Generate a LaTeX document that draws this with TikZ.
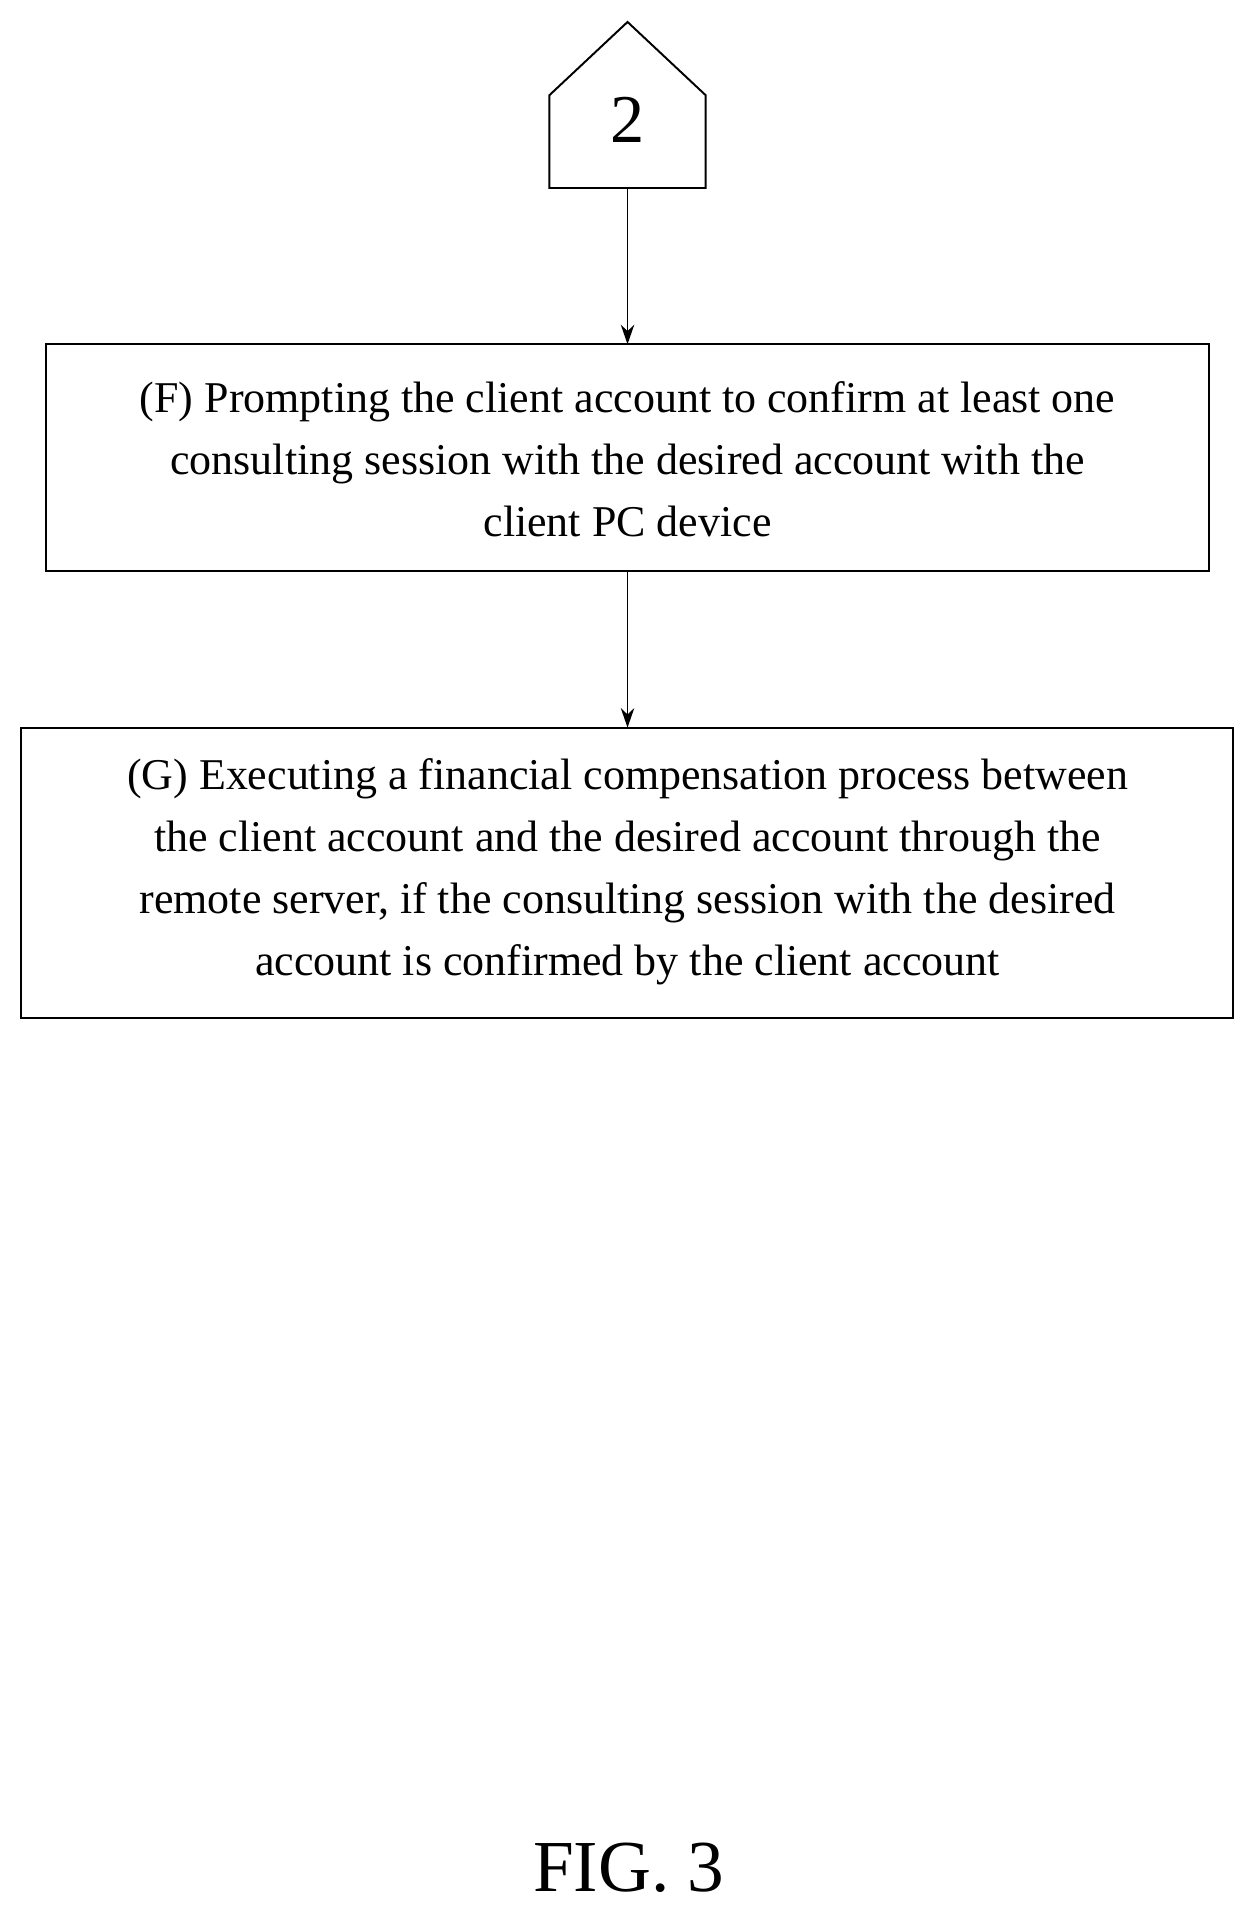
\documentclass[tikz,border=0pt]{standalone}
\usepackage{fontspec}
\usetikzlibrary{arrows.meta}
\setmainfont{Liberation Serif}
\begin{document}
\begin{tikzpicture}[x=1pt,y=-1pt,line width=1.6pt,
  stepbox/.style={align=center,font=\fontsize{36}{51}\selectfont,inner sep=0pt},
  arr/.style={-{Stealth[length=16pt,width=11pt]},line width=1.4pt}]
\useasboundingbox (0,0) rectangle (1024,1562);
\draw (450,154) -- (450,78) -- (514,18) -- (578,78) -- (578,154) -- cycle;
\node[font=\fontsize{56}{60}\selectfont] (c2) at (514,98) {2};
\coordinate (c2b) at (514,154);
\draw (38,282) rectangle (990,468);
\node[stepbox] (F) at (514,376) {(F) Prompting the client account to confirm at least one\\consulting session with the desired account with the\\client PC device};
\coordinate (Ft) at (514,282);
\coordinate (Fb) at (514,468);
\draw (17,596) rectangle (1010,834);
\node[stepbox] (G) at (514,714) {(G) Executing a financial compensation process between\\the client account and the desired account through the\\remote server, if the consulting session with the desired\\account is confirmed by the client account};
\coordinate (Gt) at (514,596);
\draw[arr] (c2b) -- (Ft);
\draw[arr] (Fb) -- (Gt);
\node[font=\fontsize{60}{64}\selectfont] (cap) at (515,1530) {FIG. 3};
\end{tikzpicture}
\end{document}
